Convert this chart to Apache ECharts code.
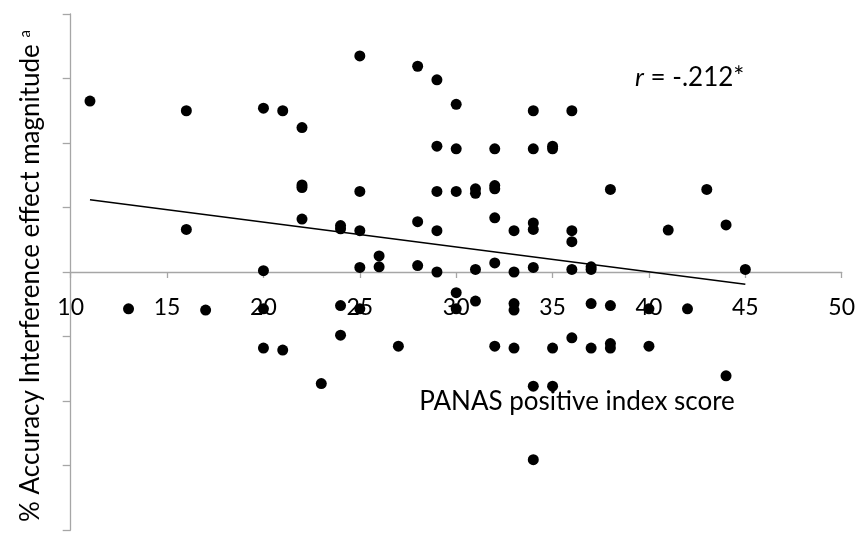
<!DOCTYPE html>
<html>
<head>
<meta charset="utf-8">
<script src="https://cdn.jsdelivr.net/npm/echarts@6/dist/echarts.min.js"></script>
<style>html,body{margin:0;padding:0;background:#fff;}#c{width:858px;height:544px;}</style>
</head>
<body>
<div id="c"></div>
<script>
// PANAS positive index score (x) and % accuracy interference effect magnitude (y, axis units)
const panasScores = [11,13,16,16,17,20,20,20,20,21,21,22,22,22,22,23,24,24,24,24,25,25,25,25,25,26,26,27,28,28,28,29,29,29,29,29,30,30,30,30,30,31,31,31,31,32,32,32,32,32,32,33,33,33,33,33,34,34,34,34,34,34,34,35,35,35,35,36,36,36,36,36,37,37,37,37,38,38,38,38,40,40,41,42,43,44,44,45];
const interference = [2.65,-0.57,2.50,0.66,-0.59,2.54,0.02,-0.57,-1.18,2.50,-1.21,2.24,1.35,1.31,0.82,-1.73,0.72,0.67,-0.52,-0.98,3.35,1.25,0.64,0.07,-0.57,0.25,0.08,-1.15,3.19,0.78,0.10,2.98,1.95,1.25,0.64,0.00,2.60,1.91,1.25,-0.32,-0.57,1.29,1.22,0.04,-0.45,1.91,1.34,1.29,0.84,0.14,-1.15,0.64,0.00,-0.49,-0.59,-1.18,2.50,1.91,0.76,0.66,0.07,-1.77,-2.91,1.95,1.91,-1.18,-1.77,2.50,0.64,0.47,0.04,-1.02,0.08,0.04,-0.49,-1.18,1.28,-0.52,-1.11,-1.18,-0.57,-1.15,0.65,-0.57,1.28,0.73,-1.61,0.04];
// Linear trend line endpoints
const trendX = [11, 45];
const trendY = [1.12, -0.19];
const xTitle = 'PANAS positive index score';
const yTitle = '% Accuracy Interference effect magnitude ';
const yTitleSup = 'a';
const corrLabel = ' = -.212*';

const points = panasScores.map((x, i) => [x, interference[i]]);
const trend = trendX.map((x, i) => [x, trendY[i]]);

const axisGray = '#a6a6a6';
const font = 'Lato';
const gridTop = 14, gridBottom = 14, chartH = 544;
const plotH = chartH - gridTop - gridBottom;
const yMin = -4, yMax = 4;
// shift the x axis (line, ticks and labels) up to y = 0
const xAxisOffset = -plotH * (0 - yMin) / (yMax - yMin);

const chart = echarts.init(document.getElementById('c'), null, {renderer: 'canvas'});
chart.setOption({
  animation: false,
  backgroundColor: '#fff',
  grid: {left: 70.7, right: 16.3, top: gridTop, bottom: gridBottom, containLabel: false, outerBoundsMode: 'none'},
  xAxis: {
    type: 'value', min: 10, max: 50, interval: 5, offset: xAxisOffset,
    axisLine: {show: true, onZero: false, lineStyle: {color: axisGray, width: 1.3}},
    axisTick: {show: true, length: 6, lineStyle: {color: axisGray, width: 1.3}},
    axisLabel: {show: true, fontFamily: font, fontSize: 23, color: '#000', margin: 24},
    splitLine: {show: false}
  },
  yAxis: {
    type: 'value', min: yMin, max: yMax, interval: 1,
    axisLine: {show: true, onZero: false, lineStyle: {color: axisGray, width: 1.3}},
    axisTick: {show: true, length: 8, lineStyle: {color: axisGray, width: 1.3}},
    axisLabel: {show: false},
    splitLine: {show: false}
  },
  series: [
    {
      type: 'line', data: trend, symbol: 'none', silent: true, z: 3,
      lineStyle: {color: '#000', width: 1.5}
    },
    {
      type: 'scatter', data: points, symbol: 'circle', symbolSize: 11, z: 4,
      itemStyle: {color: '#000', opacity: 1}
    }
  ],
  graphic: [
    {
      type: 'text', x: 31, y: 276, rotation: Math.PI / 2,
      style: {
        text: '{m|' + yTitle + '}{s|' + yTitleSup + '}',
        align: 'center', verticalAlign: 'middle',
        rich: {
          m: {fontFamily: font, fontSize: 26, fill: '#000'},
          s: {fontFamily: font, fontSize: 15, fill: '#000', verticalAlign: 'top'}
        }
      }
    },
    {
      type: 'text', x: 577, y: 402,
      style: {text: xTitle, fontFamily: font, fontSize: 26, fill: '#000', align: 'center', verticalAlign: 'middle'}
    },
    {
      type: 'text', x: 635, y: 78,
      style: {
        text: '{i|r}{n|' + corrLabel + '}',
        align: 'left', verticalAlign: 'middle',
        rich: {
          i: {fontFamily: font, fontSize: 26, fontStyle: 'italic', fill: '#000'},
          n: {fontFamily: font, fontSize: 26, fill: '#000'}
        }
      }
    }
  ]
});
</script>
</body>
</html>
